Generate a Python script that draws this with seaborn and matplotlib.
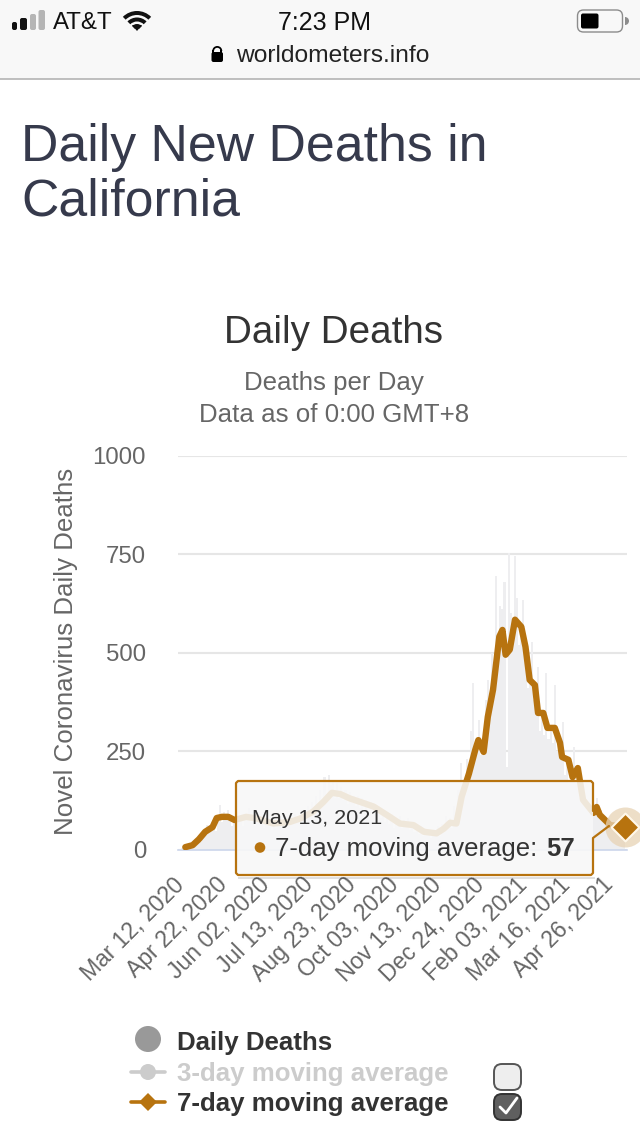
import numpy as np
import pandas as pd
import matplotlib
matplotlib.use('Agg')
import matplotlib.pyplot as plt
from matplotlib.patches import Circle, FancyBboxPatch, Polygon, Wedge, Rectangle
from matplotlib.transforms import ScaledTranslation
import seaborn as sns

# 7-day moving average (day number since Mar 12 2020)
ma_days = [7, 14, 20, 26, 33, 37, 42, 48, 54, 65, 75, 91, 107, 117, 129, 139, 147, 155, 164, 174,
           187, 200, 212, 225, 235, 247, 254, 260, 266, 271, 278, 284, 287, 292, 296, 301, 307, 310,
           313, 317, 322, 328, 332, 336, 341, 344, 349, 353, 360, 365, 367, 373, 377, 382, 387, 397,
           400, 403, 413, 427]
ma_values = [6, 11, 26, 45, 57, 80, 83, 83, 75, 83, 79, 66, 70, 79, 96, 121, 144, 141, 130, 121,
             109, 87, 66, 62, 45, 41, 53, 68, 66, 134, 193, 253, 278, 248, 337, 406, 541, 558,
             495, 508, 584, 566, 515, 431, 418, 347, 347, 309, 309, 271, 235, 228, 184, 207, 126, 93,
             108, 88, 62, 57]

# daily deaths, one value for every second day
daily_deaths = [0, 2, 3, 4, 6, 9,
                7, 12, 14, 22, 30, 18, 45, 38, 62, 50,
                55, 70, 48, 85, 112, 70, 95, 80, 100, 85,
                60, 75, 95, 70, 85, 60, 90, 75, 105, 70,
                85, 60, 95, 70, 80, 55, 75, 65, 70, 50,
                75, 55, 80, 60, 65, 70, 85, 60, 80, 65,
                90, 70, 85, 75, 100, 70, 110, 85, 120, 95,
                135, 105, 150, 125, 185, 140, 190, 165, 175, 130,
                170, 130, 160, 125, 150, 115, 145, 120, 135, 110,
                135, 105, 130, 100, 125, 90, 120, 95, 115, 85,
                110, 80, 100, 70, 95, 65, 90, 55, 80, 60,
                85, 55, 75, 60, 80, 50, 70, 45, 65, 40,
                60, 35, 55, 40, 50, 30, 50, 45, 60, 35,
                65, 45, 85, 60, 80, 55, 110, 75, 150, 219,
                120, 160, 230, 180, 300, 422, 270, 250, 330, 240,
                270, 380, 430, 360, 500, 400, 694, 540, 620, 610,
                680, 210, 753, 600, 560, 745, 640, 520, 560, 634,
                480, 410, 440, 528, 380, 350, 465, 300, 340, 290,
                448, 280, 310, 270, 418, 250, 260, 240, 325, 190,
                230, 170, 210, 261, 170, 190, 130, 150, 120, 110,
                120, 95, 105, 90, 130, 80, 100, 75, 85, 70,
                80, 60, 70, 55, 65, 50, 60, 45]

tick_labels = ['Mar 12, 2020', 'Apr 22, 2020', 'Jun 02, 2020', 'Jul 13, 2020', 'Aug 23, 2020', 'Oct 03, 2020',
               'Nov 13, 2020', 'Dec 24, 2020', 'Feb 03, 2021', 'Mar 16, 2021', 'Apr 26, 2021']
tick_days = [0, 41, 82, 123, 164, 205, 246, 287, 328, 369, 410]
y_ticks = [0, 250, 500, 750, 1000]

LINE = '#b7730f'
TEXT = '#333333'
GREY = '#666666'

sns.set_theme(style='white')
plt.rcParams['font.family'] = ['Liberation Sans', 'DejaVu Sans']


def px(n):
    # font size in points from a height in pixels
    return n * 0.72


fig = plt.figure(figsize=(6.4, 11.36), dpi=100, facecolor='white')
ax = fig.add_axes([178 / 640, 1 - 849.5 / 1136, 449 / 640, 393.5 / 1136])

bars = pd.DataFrame({'day': np.arange(len(daily_deaths)) * 2, 'deaths': daily_deaths})
ma = pd.DataFrame({'day': ma_days, 'avg': ma_values})

sns.barplot(data=bars, x='day', y='deaths', native_scale=True, width=1.0, color='#eeeef0',
            saturation=1, ax=ax, zorder=2, linewidth=0, edgecolor='none')
sns.lineplot(data=ma, x='day', y='avg', color=LINE, lw=4.6, ax=ax, zorder=3, solid_joinstyle='round')
ax.scatter([427], [57], s=830, color='#e8d3b5', alpha=0.75, clip_on=False, zorder=4, linewidths=0)
ax.scatter([427], [57], s=200, marker='D', color=LINE, edgecolor='#fff8ea', linewidths=1.5,
           clip_on=False, zorder=5)

ax.set_xlim(0, 429)
ax.set_ylim(0, 1000)
ax.set_yticks(y_ticks)
ax.set_yticklabels([str(v) for v in y_ticks], fontsize=px(24), color=GREY)
ax.set_xticks(tick_days)
ax.set_xticklabels(tick_labels, fontsize=px(23), color=GREY, rotation=45, ha='right', rotation_mode='anchor')
ax.tick_params(axis='y', length=0, pad=23)
ax.tick_params(axis='x', length=0, pad=17)
shift = ScaledTranslation(-5.5 / 100, 0, fig.dpi_scale_trans)
for lab in ax.get_xticklabels():
    lab.set_transform(lab.get_transform() + shift)
ax.grid(axis='y', color='#e6e6e6', lw=1.5, zorder=0)
ax.set_axisbelow(True)
ax.set_xlabel('')
ax.set_ylabel('Novel Coronavirus Daily Deaths', fontsize=px(25.9), color=GREY, labelpad=0)
ax.yaxis.set_label_coords((78 - 178) / 449, (849.5 - 651.5) / 393.5)
for s in ['top', 'right', 'left']:
    ax.spines[s].set_visible(False)
ax.spines['bottom'].set_color('#ccd6eb')
ax.spines['bottom'].set_linewidth(1.2)

# page furniture, in pixel coordinates
ov = fig.add_axes([0, 0, 1, 1], zorder=5)
ov.set_xlim(0, 640)
ov.set_ylim(1136, 0)
ov.axis('off')
ov.patch.set_alpha(0)

ov.add_patch(Rectangle((0, 0), 640, 79, color='#f8f8f8', lw=0))
ov.plot([0, 640], [79, 79], color='#b4b4b4', lw=1.2)
for x, w, h, c in [(12, 5, 8, '#111111'), (20, 7, 12, '#111111'), (30, 6, 16, '#b5b5b5'), (38.5, 6.5, 20, '#b5b5b5')]:
    ov.add_patch(FancyBboxPatch((x, 30 - h), w, h, boxstyle='round,pad=0,rounding_size=2', color=c, lw=0))
ov.text(53, 23, 'AT&T', fontsize=px(24), color='#111111', va='center')
for r in [20, 13.5, 7]:
    ov.add_patch(Wedge((137, 31), r, 225, 315, width=4, color='#111111', lw=0))
ov.add_patch(Polygon([(132, 25), (142, 25), (137, 31)], color='#111111', lw=0))
ov.text(325, 23, '7:23 PM', fontsize=px(25), color='#111111', ha='center', va='center', fontweight='medium')
ov.add_patch(FancyBboxPatch((577.5, 10), 45, 22, boxstyle='round,pad=0,rounding_size=6', fc='none', ec='#8c8c8c', lw=1))
ov.add_patch(FancyBboxPatch((581, 13.5), 17.5, 15, boxstyle='round,pad=0,rounding_size=2', fc='black', ec='black', lw=0))
ov.add_patch(Wedge((625, 21), 4, -90, 90, color='#8c8c8c', lw=0))
ov.add_patch(FancyBboxPatch((211.5, 52), 11.5, 10, boxstyle='round,pad=0,rounding_size=2', fc='black', lw=0))
ov.add_patch(Wedge((217.25, 51), 5, 180, 360, width=1.8, color='black', lw=0))
ov.add_patch(Rectangle((212.25, 50), 1.8, 3, color='black', lw=0))
ov.add_patch(Rectangle((220.45, 50), 1.8, 3, color='black', lw=0))
ov.text(236, 56, 'worldometers.info', fontsize=px(24.5), color='#222222', va='center')

ov.text(21, 147, 'Daily New Deaths in', fontsize=px(51.8), color='#363a4c', va='center')
ov.text(21, 202, 'California', fontsize=px(51.8), color='#363a4c', va='center')
ov.text(334, 333, 'Daily Deaths', fontsize=px(38.6), color=TEXT, ha='center', va='center')
ov.text(334, 383, 'Deaths per Day', fontsize=px(25.9), color=GREY, ha='center', va='center')
ov.text(334, 415, 'Data as of 0:00 GMT+8', fontsize=px(25.9), color=GREY, ha='center', va='center')

# tooltip, the faded box first and its outline with the pointer after
ov.add_patch(Rectangle((237.5, 877), 357, 2, color='#000000', alpha=0.12, lw=0))
ov.add_patch(Rectangle((236, 781), 357, 94, fc='#f8f8f8', alpha=0.88, lw=0))
outline = [(593, 811), (593, 783), (591, 781), (238, 781), (236, 783), (236, 873), (238, 875), (591, 875),
           (593, 873), (593, 838), (609, 826)]
ov.plot([p[0] for p in outline], [p[1] for p in outline], color=LINE, lw=1.6, solid_joinstyle='round')
ov.text(252, 818, 'May 13, 2021', fontsize=px(21.5), color=TEXT, va='center')
ov.add_patch(Circle((260, 847.5), 5.3, color=LINE, lw=0))
ov.text(275, 849, '7-day moving average: ', fontsize=px(25.7), color=TEXT, va='center')
ov.text(575, 849, '57', fontsize=px(25.7), color=TEXT, va='center', ha='right', fontweight='bold')

# legend
ov.add_patch(Circle((148, 1039), 13, color='#999999', lw=0))
ov.text(177, 1043, 'Daily Deaths', fontsize=px(25.9), color=TEXT, va='center', fontweight='bold')
ov.plot([131, 165], [1072, 1072], color='#cccccc', lw=2.6)
ov.add_patch(Circle((148, 1072), 8, color='#cccccc', lw=0))
ov.text(177, 1074, '3-day moving average', fontsize=px(25.9), color='#cccccc', va='center', fontweight='bold')
ov.plot([131, 165], [1102, 1102], color=LINE, lw=2.6)
ov.add_patch(Polygon([(148, 1093), (157, 1102), (148, 1111), (139, 1102)], color=LINE, lw=0))
ov.text(177, 1104, '7-day moving average', fontsize=px(25.9), color=TEXT, va='center', fontweight='bold')
ov.add_patch(FancyBboxPatch((494, 1064), 27, 26, boxstyle='round,pad=0,rounding_size=8', fc='#eeeeee', ec='#555555', lw=1.4))
ov.add_patch(FancyBboxPatch((494, 1094), 27, 26, boxstyle='round,pad=0,rounding_size=8', fc='#5f5f5f', ec='#333333', lw=1.4))
ov.plot([500, 506, 517], [1107, 1113, 1098], color='white', lw=2)

fig.savefig('out.png', dpi=100, facecolor='white')
